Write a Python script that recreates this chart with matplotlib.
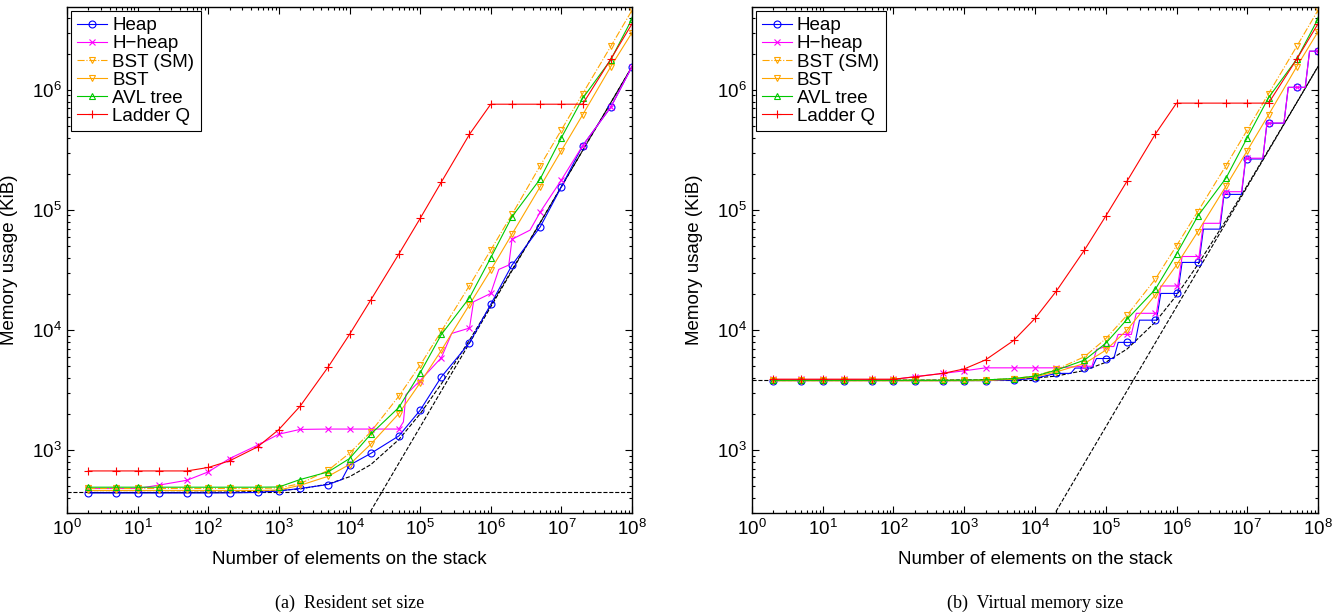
import matplotlib
matplotlib.use("Agg")
import matplotlib.pyplot as plt
from matplotlib.ticker import NullFormatter

plt.rcParams['font.family'] = ['Liberation Sans', 'DejaVu Sans']
plt.rcParams['mathtext.default'] = 'regular'

# number of elements (marker positions)
n_base = [2, 5, 10, 20, 50, 100, 200, 500, 1e3, 2e3, 5e3, 1e4, 2e4, 5e4, 1e5,
          2e5, 5e5, 1e6, 2e6, 5e6, 1e7, 2e7, 5e7, 1e8]

# axis ticks
x_major = [1, 10, 100, 1e3, 1e4, 1e5, 1e6, 1e7, 1e8]
y_major = [1e3, 1e4, 1e5, 1e6]
x_minor = [m * d for d in x_major[:-1] for m in range(2, 10)]
y_minor = [m * d for d in [100, 1e3, 1e4, 1e5, 1e6] for m in range(2, 10)]

# ---- (a) resident set size [KiB] ----
rss_heap_n = [2, 5, 10, 20, 50, 100, 200, 500, 1e3, 2e3, 5e3, 7.8e3, 1e4, 2e4, 5e4,
              1e5, 2e5, 5e5, 1e6, 2e6, 5e6, 1e7, 2e7, 5e7, 1e8]
rss_heap = [440, 440, 440, 440, 440, 440, 441, 445, 458, 480, 518, 570, 750, 940, 1315,
            2150, 4080, 7840, 16400, 34800, 72000, 156000, 343000, 718000, 1.56e6]
rss_hheap_n = [2, 5, 10, 20, 50, 100, 200, 500, 1e3, 2e3, 5e3, 1e4, 2e4, 5e4, 5.8e4, 6.3e4,
               1e5, 2e5, 2.8e5, 5e5, 5.7e5, 1e6, 1.3e6, 1.8e6, 2e6, 3.6e6, 5e6, 1e7,
               2e7, 5e7, 1e8]
rss_hheap = [480, 480, 480, 512, 562, 660, 852, 1100, 1360, 1490, 1500, 1500, 1500, 1500,
             1720, 2900, 3800, 5900, 9380, 10400, 17200, 20200, 32000, 34800, 57000,
             68000, 95800, 178000, 343000, 718000, 1.56e6]
rss_bst_sm = [480, 480, 480, 480, 480, 480, 480, 480, 485, 526, 681, 945, 1420, 2820, 5100,
              9800, 23500, 46400, 92000, 233000, 464000, 930000, 2.3e6, 4.6e6]
rss_bst = [462, 462, 462, 462, 462, 462, 462, 462, 466, 510, 607, 760, 1122, 2020, 3640,
           6800, 16300, 31600, 63000, 156000, 312000, 620000, 1.56e6, 3.0e6]
rss_avl = [492, 492, 492, 492, 492, 492, 492, 492, 494, 570, 660, 852, 1360, 2270, 4400,
           9200, 18600, 40000, 88000, 181000, 400000, 850000, 1.78e6, 3.9e6]
rss_ladder = [672, 672, 672, 672, 672, 718, 815, 1066, 1487, 2326, 4940, 9200, 17800, 43000,
              85000, 171000, 427000, 760000, 760000, 760000, 760000, 760000, 1.8e6, 3.55e6]
# reference lines: constant overhead, 16 B/element, and their sum
rss_const_n = [1, 1e8]
rss_const = [445, 445]
lin_n = [1e4, 1e8]
lin_val = [156, 1.5625e6]
rss_sum = [445, 445, 445, 445, 446, 447, 448, 453, 461, 476, 523, 601, 758, 1226, 2008,
           3570, 8258, 16070, 31700, 78570, 156700, 313200, 781700, 1.563e6]

# ---- (b) virtual memory size [KiB] ----
vm_heap_n = [2, 5, 10, 20, 50, 100, 200, 500, 1e3, 2e3, 5e3, 1e4, 2e4, 3.2e4, 3.7e4, 5e4,
             6.4e4, 7.4e4, 1e5, 1.3e5, 1.5e5, 2e5, 2.6e5, 3e5, 5e5, 5.2e5, 6e5, 1e6,
             1.04e6, 1.2e6, 2e6, 2.08e6, 2.4e6, 4.1e6, 4.7e6, 5e6, 8.3e6, 9.5e6, 1e7,
             1.66e7, 1.9e7, 2e7, 3.3e7, 3.8e7, 5e7, 6.6e7, 7.6e7, 1e8]
vm_heap = [3800, 3800, 3800, 3800, 3800, 3800, 3800, 3800, 3800, 3800, 3830, 3970, 4360,
           4360, 4830, 4830, 4830, 5800, 5800, 5800, 7900, 7900, 7900, 12100, 12100, 12100,
           20200, 20200, 20200, 36600, 36600, 36600, 69300, 69300, 134900, 134900, 134900,
           266000, 266000, 266000, 528000, 528000, 528000, 1.05e6, 1.05e6, 1.05e6, 2.1e6,
           2.1e6]
vm_hheap_n = [2, 5, 10, 20, 50, 100, 200, 500, 1e3, 2e3, 5e3, 1e4, 2e4, 5e4, 6.4e4, 7.4e4,
              1e5, 1.3e5, 1.5e5, 2e5, 2.3e5, 2.7e5, 5e5, 5.2e5, 6e5, 1e6, 1.04e6, 1.2e6,
              2e6, 2.08e6, 2.4e6, 4.1e6, 4.7e6, 5e6, 8.3e6, 9.5e6, 1e7, 1.66e7, 1.9e7, 2e7,
              3.3e7, 3.8e7, 5e7, 6.6e7, 7.6e7, 1e8]
vm_hheap = [3880, 3880, 3880, 3880, 3880, 3880, 4100, 4360, 4580, 4850, 4850, 4850, 4850,
            5000, 5000, 6900, 7300, 7300, 9200, 9200, 9200, 13800, 13800, 13800, 23300,
            23300, 23300, 41000, 41000, 41000, 77500, 77500, 142000, 142000, 142000,
            270000, 270000, 270000, 530000, 530000, 530000, 1.05e6, 1.05e6, 1.05e6, 2.1e6,
            2.1e6]
vm_bst_sm = [3830, 3830, 3830, 3830, 3830, 3830, 3830, 3830, 3830, 3850, 3950, 4150, 4700,
             6000, 8480, 13300, 26500, 50400, 97000, 234000, 464000, 930000, 2.3e6, 4.6e6]
vm_bst = [3780, 3780, 3780, 3780, 3780, 3780, 3780, 3780, 3790, 3800, 3900, 4080, 4490,
          5270, 6800, 10000, 19600, 34800, 66000, 158000, 312000, 620000, 1.56e6, 3.05e6]
vm_avl = [3820, 3820, 3820, 3820, 3820, 3820, 3820, 3820, 3830, 3850, 3950, 4140, 4640,
          5620, 7760, 12300, 21800, 43000, 89000, 184000, 400000, 863000, 1.8e6, 3.9e6]
vm_ladder = [3900, 3900, 3900, 3900, 3900, 3900, 4080, 4360, 4750, 5650, 8200, 12500, 21100,
             46400, 89000, 174000, 427000, 776000, 776000, 776000, 776000, 776000, 1.8e6,
             3.55e6]
vm_const = [3830, 3830]
vm_sum = [3830, 3830, 3830, 3830, 3831, 3832, 3833, 3838, 3846, 3861, 3908, 3986, 4143,
          4611, 5393, 6955, 11643, 19455, 35080, 81955, 160080, 316330, 785080, 1.5663e6]

labels = ["Heap", "H\u2212heap", "BST (SM)", "BST", "AVL tree", "Ladder Q"]
orange = "#FFA500"
green = "#00C800"


def draw(ax, n, v, color, marker, ls="-", ms=5, label=None):
    idx = [i for i, x in enumerate(n) if x in n_base]
    ax.plot(n, v, ls, color=color, marker=marker, markevery=idx, ms=ms,
            mfc="none", mew=0.8, lw=0.8, label=label)


def setup(ax):
    ax.set_xscale("log")
    ax.set_yscale("log")
    ax.set_xticks(x_major)
    ax.set_xticks(x_minor, minor=True)
    ax.set_yticks(y_major)
    ax.set_yticks(y_minor, minor=True)
    ax.xaxis.set_minor_formatter(NullFormatter())
    ax.yaxis.set_minor_formatter(NullFormatter())
    ax.set_xlim(1, 1e8)
    ax.set_ylim(300, 4.9e6)
    ax.tick_params(which="both", direction="in", top=True, right=True, width=0.8,
                   labelsize=13.5)
    ax.tick_params(which="major", length=5, pad=4)
    ax.tick_params(which="minor", length=2.5)
    for s in ax.spines.values():
        s.set_linewidth(1.0)
    ax.set_xlabel("Number of elements on the stack", fontsize=13.5)
    ax.set_ylabel("Memory usage (KiB)", fontsize=13.5)
    ax.xaxis.set_label_coords(0.5, -0.075)
    ax.yaxis.set_label_coords(-0.087, 0.5)
    leg = ax.legend(loc="upper left", fontsize=13.5, numpoints=1, handlelength=1.6,
                    handletextpad=0.25, borderpad=0.35, labelspacing=0.05,
                    borderaxespad=0.2, fancybox=False, framealpha=1, edgecolor="black")
    leg.get_frame().set_linewidth(0.8)


fig = plt.figure(figsize=(13.41, 6.16), dpi=100)
ax1 = fig.add_axes([67 / 1341, 1 - 513 / 616, 565 / 1341, 506 / 616])
ax2 = fig.add_axes([752 / 1341, 1 - 513 / 616, 566 / 1341, 506 / 616])

# (a) resident set size
ax1.plot(rss_const_n, rss_const, "--", color="black", lw=0.8)
ax1.plot(lin_n, lin_val, "--", color="black", lw=0.8)
ax1.plot(n_base, rss_sum, "--", color="black", lw=0.8)
draw(ax1, rss_heap_n, rss_heap, "blue", "o", label=labels[0])
draw(ax1, rss_hheap_n, rss_hheap, "magenta", "x", ms=4, label=labels[1])
draw(ax1, n_base, rss_bst_sm, orange, "v", ls="-.", label=labels[2])
draw(ax1, n_base, rss_bst, orange, "v", label=labels[3])
draw(ax1, n_base, rss_avl, green, "^", label=labels[4])
draw(ax1, n_base, rss_ladder, "red", "+", ms=6, label=labels[5])
setup(ax1)

# (b) virtual memory size
ax2.plot(rss_const_n, vm_const, "--", color="black", lw=0.8)
ax2.plot(lin_n, lin_val, "--", color="black", lw=0.8)
ax2.plot(n_base, vm_sum, "--", color="black", lw=0.8)
draw(ax2, vm_heap_n, vm_heap, "blue", "o", label=labels[0])
draw(ax2, vm_hheap_n, vm_hheap, "magenta", "x", ms=4, label=labels[1])
draw(ax2, n_base, vm_bst_sm, orange, "v", ls="-.", label=labels[2])
draw(ax2, n_base, vm_bst, orange, "v", label=labels[3])
draw(ax2, n_base, vm_avl, green, "^", label=labels[4])
draw(ax2, n_base, vm_ladder, "red", "+", ms=6, label=labels[5])
setup(ax2)

# sub-captions
fig.text(350 / 1341, 1 - 603 / 616, "(a)  Resident set size", ha="center", va="center",
         family="Liberation Serif", fontsize=13)
fig.text(1035 / 1341, 1 - 603 / 616, "(b)  Virtual memory size", ha="center", va="center",
         family="Liberation Serif", fontsize=13)

fig.savefig("out.png", dpi=100)
